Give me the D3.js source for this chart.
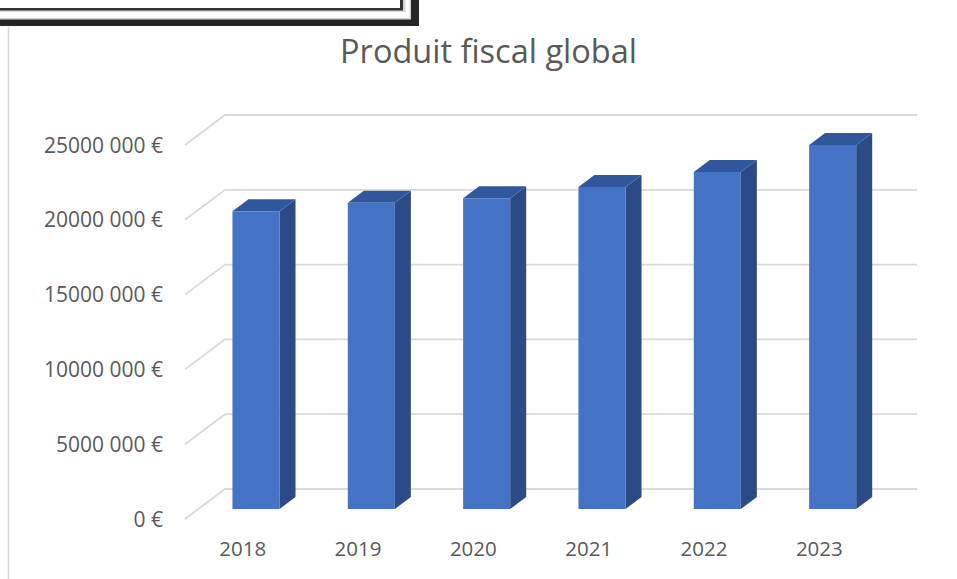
<!DOCTYPE html>
<html>
<head>
<meta charset="utf-8">
<script src="https://cdn.jsdelivr.net/npm/d3@7"></script>
<style>
  html, body { margin: 0; padding: 0; background: #ffffff; }
  svg { display: block; }
  text { font-family: "Open Sans", "Noto Sans", sans-serif; fill: #595959; }
</style>
</head>
<body>
<svg id="chart" width="957" height="579"></svg>
<script>
// Produit fiscal global, 2018–2023 (euros)
const years = ["2018", "2019", "2020", "2021", "2022", "2023"];
const produit = [19900000, 20470000, 20770000, 21520000, 22530000, 24330000];
const tickValues = [0, 5000000, 10000000, 15000000, 20000000, 25000000];
const tickLabels = ["0 €", "5000 000 €", "10000 000 €", "15000 000 €", "20000 000 €", "25000 000 €"];
const title = "Produit fiscal global";

const W = 957, H = 579;
const svg = d3.select("#chart");

// Front plane of the 3D plot and the depth vector of the floor
const plot = { left: 185, right: 877, floor: 519, height: 374 };
const depth = { dx: 40, dy: -30 };
const barDepth = [0.333, 0.733];   // bar sits between these depth fractions
const barWidthRatio = 0.408;

const x = d3.scaleBand().domain(years).range([plot.left, plot.right]).padding(0);
const y = d3.scaleLinear().domain([0, 25000000]).range([0, plot.height]);

// project (category x-pixel, value, depth fraction) onto the screen
const P = (px, v, d) => [px + d * depth.dx, plot.floor + d * depth.dy - y(v)];

// --- frame of the text box overlapping the top-left corner ---
const frame = svg.append("g");
frame.append("rect").attr("x", -5).attr("y", -5).attr("width", 424).attr("height", 31).attr("fill", "#262626");
frame.append("rect").attr("x", -5).attr("y", -5).attr("width", 416).attr("height", 24.5).attr("fill", "#d4d4d4");
frame.append("rect").attr("x", -5).attr("y", -5).attr("width", 414.5).attr("height", 23).attr("fill", "#ffffff");
frame.append("rect").attr("x", -5).attr("y", -5).attr("width", 410.5).attr("height", 17).attr("fill", "#d4d4d4");
frame.append("rect").attr("x", -5).attr("y", -5).attr("width", 408).attr("height", 15.5).attr("fill", "#333333");
frame.append("rect").attr("x", -5).attr("y", -5).attr("width", 405).attr("height", 13).attr("fill", "#ffffff");

// chart area left border
svg.append("line").attr("x1", 8.5).attr("x2", 8.5).attr("y1", 27).attr("y2", H)
  .attr("stroke", "#d9d9d9").attr("stroke-width", 1.5);

// --- title ---
svg.append("text").attr("x", 488.5).attr("y", 63).attr("text-anchor", "middle")
  .attr("font-size", 32.5).text(title);

// --- gridlines on the back wall, with the diagonal side-wall segments ---
const grid = svg.append("g").attr("stroke", "#d9d9d9").attr("stroke-width", 1.8).attr("fill", "none");
tickValues.forEach(v => {
  const a = P(plot.left, v, 0), b = P(plot.left, v, 1), c = P(plot.right, v, 1);
  grid.append("path").attr("d", d3.line()([a, b, c]));
});

// --- y-axis labels ---
svg.append("g").selectAll("text").data(tickValues).join("text")
  .attr("x", 163).attr("y", v => P(plot.left, v, 0)[1]).attr("dy", "0.36em")
  .attr("text-anchor", "end").attr("font-size", 21)
  .text((v, i) => tickLabels[i]);

// --- x-axis labels ---
svg.append("g").selectAll("text").data(years).join("text")
  .attr("x", yr => x(yr) + x.bandwidth() / 2).attr("y", 549).attr("dy", "0.36em")
  .attr("text-anchor", "middle").attr("font-size", 20.5)
  .text(yr => yr);

// --- 3D columns ---
const colors = { front: "#4472c4", side: "#2b4a86", top: "#30569c" };
const bars = svg.append("g");
years.forEach((yr, i) => {
  const v = produit[i];
  const bw = x.bandwidth() * barWidthRatio;
  const x0 = x(yr) + (x.bandwidth() - bw) / 2, x1 = x0 + bw;
  const [d0, d1] = barDepth;
  const g = bars.append("g");
  // side face
  g.append("path").attr("fill", colors.side)
    .attr("d", d3.line()([P(x1, 0, d0), P(x1, 0, d1), P(x1, v, d1), P(x1, v, d0)]) + "Z");
  // top face
  g.append("path").attr("fill", colors.top)
    .attr("d", d3.line()([P(x0, v, d0), P(x1, v, d0), P(x1, v, d1), P(x0, v, d1)]) + "Z");
  // front face
  g.append("path").attr("fill", colors.front)
    .attr("d", d3.line()([P(x0, 0, d0), P(x1, 0, d0), P(x1, v, d0), P(x0, v, d0)]) + "Z");
});
</script>
</body>
</html>
